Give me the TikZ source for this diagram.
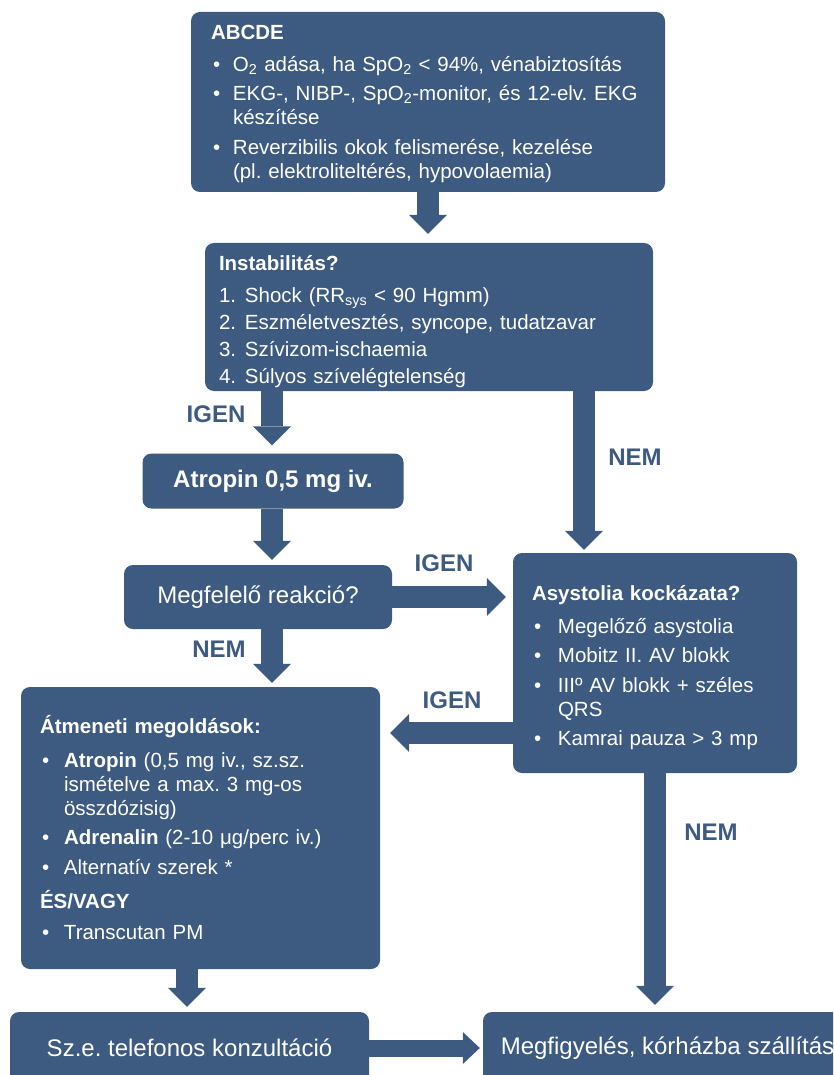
\documentclass[tikz,border=0pt]{standalone}
\usepackage{fontspec}
\setmainfont{Liberation Sans}
\usetikzlibrary{arrows.meta, positioning}
\definecolor{algblue}{HTML}{3D5A80}
\setlength{\parindent}{0pt}
\frenchspacing
\newcommand{\bitem}[2][22pt]{\par\vspace{5.5pt}\hangindent=#1\hangafter=1\noindent\makebox[#1][l]{\hspace{2pt}\textbullet}#2}
\newcommand{\nitem}[2]{\par\vspace{3pt}\hangindent=26pt\hangafter=1\noindent\makebox[26pt][l]{#1}#2}
\tikzset{
  listbox/.style={fill=algblue, rounded corners=9pt, text=white, inner ysep=0pt,
    font=\fontsize{20.5}{24}\selectfont, align=left},
  onebox/.style={fill=algblue, rounded corners=9pt, text=white, inner sep=0pt,
    font=\fontsize{24}{28}\selectfont, align=center},
  blockarrow/.style={algblue, line width=22pt,
    -{Triangle[length=19pt, width=38pt, line width=0pt]}},
  answer/.style={text=algblue, font=\fontsize{24}{28}\selectfont\bfseries},
}

\begin{document}
\begin{tikzpicture}[x=1pt, y=-1pt]
    \useasboundingbox (0,0) rectangle (833,1075);
    \clip (0,0) rectangle (833,1075);
    % boxes
    \node[listbox, minimum width=474pt, minimum height=180pt, inner xsep=20pt, text width=434pt]
          (abcde) at (428,102) {\rule{0pt}{18pt}\textbf{ABCDE}\par\vspace{2pt}
          \bitem{O\textsubscript{2} adása, ha SpO\textsubscript{2} < 94\%, vénabiztosítás}
          \bitem{EKG-, NIBP-, SpO\textsubscript{2}-monitor, és 12-elv. EKG\newline készítése}
          \bitem{Reverzibilis okok felismerése, kezelése\newline (pl. elektroliteltérés, hypovolaemia)}\par};
    \node[listbox, minimum width=448pt, minimum height=148pt, inner xsep=14pt, text width=420pt]
          (instab) at (429,317) {\rule{0pt}{24pt}\textbf{Instabilitás?}\par\vspace{5pt}
          \nitem{1.}{Shock (RR\textsubscript{sys} < 90 Hgmm)}
          \nitem{2.}{Eszméletvesztés, syncope, tudatzavar}
          \nitem{3.}{Szívizom-ischaemia}
          \nitem{4.}{Súlyos szívelégtelenség}\par};
    \node[onebox, minimum width=261pt, minimum height=55pt, font=\fontsize{24}{28}\selectfont\bfseries]
          (atropin) at (273,481) {Atropin 0,5 mg iv.};
    \node[onebox, minimum width=268pt, minimum height=64pt]
          (reakcio) at (258,597) {Megfelelő reakció?};
    \node[listbox, minimum width=284pt, minimum height=220pt, inner xsep=19pt, text width=246pt]
          (asys) at (655,663) {\rule{0pt}{25pt}\textbf{Asystolia kockázata?}\par\vspace{3pt}
          \bitem[26pt]{Megelőző asystolia}
          \bitem[26pt]{Mobitz II. AV blokk}
          \bitem[26pt]{IIIº AV blokk + széles\newline QRS}
          \bitem[26pt]{Kamrai pauza > 3 mp}\par};
    \node[listbox, minimum width=359pt, minimum height=282pt, inner xsep=19pt, text width=321pt]
          (atmen) at (200.5,828) {\textbf{Átmeneti megoldások:}\par\vspace{4pt}
          \bitem[24pt]{\textbf{Atropin} (0,5 mg iv., sz.sz.\newline ismételve a max. 3 mg-os\newline összdózisig)}
          \bitem[24pt]{\textbf{Adrenalin} (2-10 μg/perc iv.)}
          \bitem[24pt]{Alternatív szerek *}
          \par\vspace{10pt}\textbf{ÉS/VAGY}\par\vspace{2pt}
          \bitem[24pt]{Transcutan PM}\par};
    \node[onebox, minimum width=359pt, minimum height=72pt]
          (konz) at (189.5,1048) {Sz.e. telefonos konzultáció};
    \node[onebox, minimum width=369pt, minimum height=72pt]
          (megf) at (667.5,1048) {Megfigyelés, kórházba szállítás};
    % arrow columns and rows
    \coordinate (leftcol) at (272,0);
    \coordinate (nemcol) at (584,0);
    \coordinate (bottomcol) at (187,0);
    \coordinate (igenrow) at (0,733);
    % connectors
    \draw[blockarrow, shorten >=9pt] (abcde.south) -- (abcde.south |- instab.north);
    \draw[blockarrow, shorten >=8pt] (leftcol |- instab.south) -- (leftcol |- atropin.north);
    \draw[blockarrow, shorten >=3pt] (nemcol |- instab.south) -- (nemcol |- asys.north);
    \draw[blockarrow, shorten >=5pt] (leftcol |- atropin.south) -- (leftcol |- reakcio.north);
    \draw[blockarrow, shorten >=7pt] (reakcio.east) -- (asys.west |- reakcio.east);
    \draw[blockarrow, shorten >=4pt] (leftcol |- reakcio.south) -- (leftcol |- atmen.north);
    \draw[blockarrow, shorten >=10pt] (asys.west |- igenrow) -- (atmen.east |- igenrow);
    \draw[blockarrow, shorten >=7pt] (asys.south) -- (asys.south |- megf.north);
    \draw[blockarrow, shorten >=5pt] (bottomcol |- atmen.south) -- (bottomcol |- konz.north);
    \draw[algblue, line width=17pt, -{Triangle[length=17pt, width=32pt, line width=0pt]},
          shorten >=3pt] (konz.east) -- (megf.west);
    % answers
    \node[answer] (igen1) at (216,414) {IGEN};
    \node[answer] (nem1)  at (635,457) {NEM};
    \node[answer] (igen2) at (444,563) {IGEN};
    \node[answer] (nem2)  at (219,649) {NEM};
    \node[answer] (igen3) at (452,700) {IGEN};
    \node[answer] (nem3)  at (711,832) {NEM};
\end{tikzpicture}
\end{document}
